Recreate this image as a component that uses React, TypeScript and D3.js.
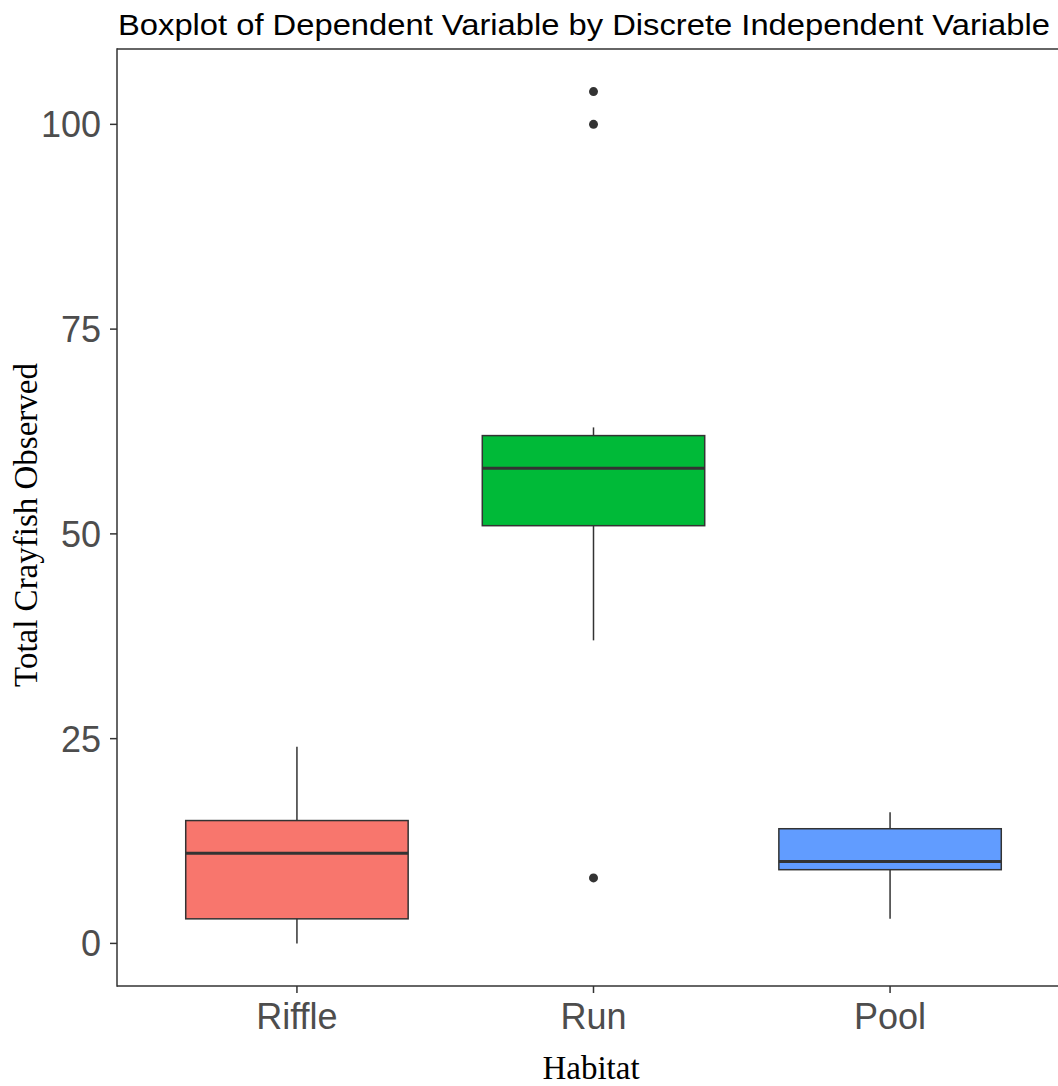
import React from 'react'
import * as d3 from 'd3';

const width = 1058;
const height = 1086;

const margin = { top: 49, left: 117, bottom: 100 };

// values
const habitats = ["Riffle", "Run", "Pool"];
const colors = ["#F8766D", "#00BA38", "#619CFF"];
const lowerWhisker = [0, 37, 3];
const q1 = [3, 51, 9];
const median = [11, 58, 10];
const q3 = [15, 62, 14];
const upperWhisker = [24, 63, 16];
const outliers = [[], [104, 100, 8], []];
const yTicks = [0, 25, 50, 75, 100];

const axisColor = "#333333";
const tickTextColor = "#4d4d4d";

function App() {
  // discrete axis: positions 1..3, expanded by 0.6 each side
  const x = d3.scaleLinear()
    .domain([0.4, 3.6])
    .range([margin.left + 2, 1068]);

  const y = d3.scaleLinear()
    .domain([-5.2, 109.2])
    .range([height - margin.bottom, margin.top]);

  const boxWidth = (x(2) - x(1)) * 0.75;
  const plotBottom = height - margin.bottom;

  return (
    <svg width={width} height={height}
      style={{ position: "absolute", left: 0, top: 0, background: "white" }}>
      {/* title */}
      <text x={margin.left + 1} y={35} fontFamily="'Liberation Sans', Arial, sans-serif"
        fontSize={30} fill="#000" textLength={932} lengthAdjust="spacingAndGlyphs">
        Boxplot of Dependent Variable by Discrete Independent Variable
      </text>

      {/* boxes */}
      {habitats.map((h, i) => {
        const cx = x(i + 1);
        return (
          <g key={h}>
            <line x1={cx} x2={cx} y1={y(upperWhisker[i])} y2={y(q3[i])}
              stroke={axisColor} strokeWidth={1.5} />
            <line x1={cx} x2={cx} y1={y(q1[i])} y2={y(lowerWhisker[i])}
              stroke={axisColor} strokeWidth={1.5} />
            <rect x={cx - boxWidth / 2} y={y(q3[i])} width={boxWidth}
              height={y(q1[i]) - y(q3[i])} fill={colors[i]}
              stroke={axisColor} strokeWidth={1.5} />
            <line x1={cx - boxWidth / 2} x2={cx + boxWidth / 2}
              y1={y(median[i])} y2={y(median[i])}
              stroke={axisColor} strokeWidth={3} />
            {outliers[i].map((o, j) => (
              <circle key={j} cx={cx} cy={y(o)} r={4.5} fill={axisColor} />
            ))}
          </g>
        );
      })}

      {/* panel lines */}
      <line x1={margin.left} x2={width} y1={margin.top} y2={margin.top}
        stroke={axisColor} strokeWidth={1.5} />
      <line x1={margin.left} x2={margin.left} y1={margin.top - 0.75} y2={plotBottom + 0.75}
        stroke={axisColor} strokeWidth={1.5} />
      <line x1={margin.left} x2={width} y1={plotBottom} y2={plotBottom}
        stroke={axisColor} strokeWidth={1.5} />

      {/* y axis ticks */}
      {yTicks.map((t) => (
        <g key={t}>
          <line x1={margin.left - 7} x2={margin.left} y1={y(t)} y2={y(t)}
            stroke={axisColor} strokeWidth={1.5} />
          <text x={margin.left - 16} y={y(t)} dy="0.36em" textAnchor="end"
            fontFamily="'Liberation Sans', Arial, sans-serif" fontSize={36}
            fill={tickTextColor}>{t}</text>
        </g>
      ))}

      {/* x axis ticks */}
      {habitats.map((h, i) => (
        <g key={h}>
          <line x1={x(i + 1)} x2={x(i + 1)} y1={plotBottom} y2={plotBottom + 7}
            stroke={axisColor} strokeWidth={1.5} />
          <text x={x(i + 1)} y={plotBottom + 43} textAnchor="middle"
            fontFamily="'Liberation Sans', Arial, sans-serif" fontSize={36}
            fill={tickTextColor}>{h}</text>
        </g>
      ))}

      {/* axis titles */}
      <text x={591} y={1079} textAnchor="middle"
        fontFamily="'Liberation Serif', 'Times New Roman', serif" fontSize={33}
        fill="#000">Habitat</text>
      <text transform={`translate(37,525) rotate(-90)`} textAnchor="middle"
        fontFamily="'Liberation Serif', 'Times New Roman', serif" fontSize={33}
        fill="#000">Total Crayfish Observed</text>
    </svg>
  );
}

export default App;
